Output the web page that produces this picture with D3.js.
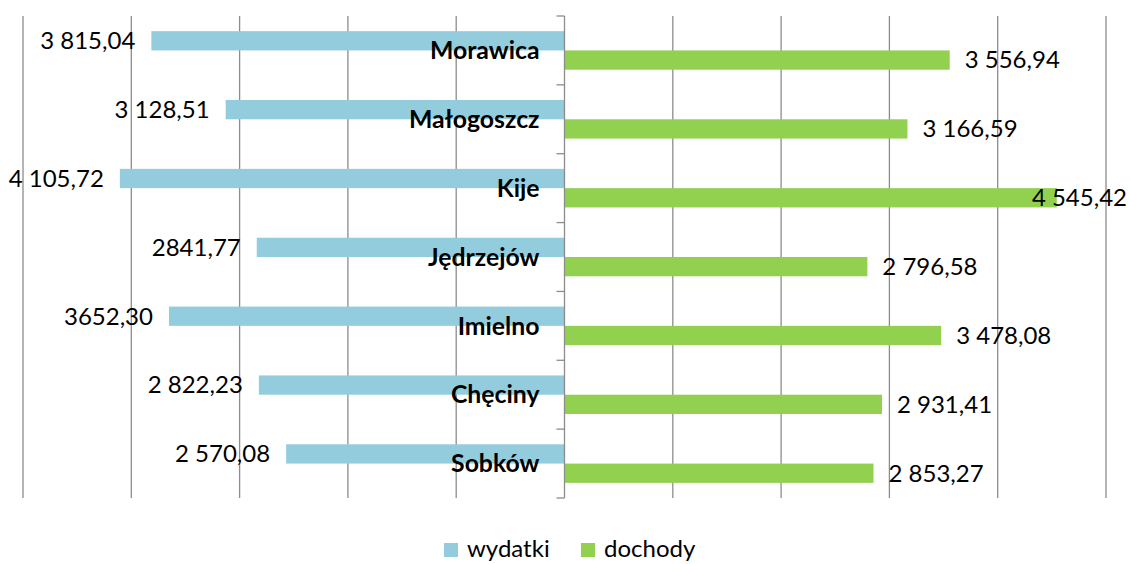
<!DOCTYPE html>
<html><head><meta charset="utf-8">
<script src="https://cdn.jsdelivr.net/npm/d3@7"></script>
<style>body{margin:0;background:#fff}svg{display:block}text{font-family:Lato,"Open Sans",sans-serif}</style>
</head><body><svg id="c" width="1130" height="564"></svg>
<script>
const categories = ["Morawica","Małogoszcz","Kije","Jędrzejów","Imielno","Chęciny","Sobków"];
const wydatki = [3815.04,3128.51,4105.72,2841.77,3652.30,2822.23,2570.08];
const wydatkiLabels = ["3 815,04","3 128,51","4 105,72","2841,77","3652,30","2 822,23","2 570,08"];
const dochody = [3556.94,3166.59,4545.42,2796.58,3478.08,2931.41,2853.27];
const dochodyLabels = ["3 556,94","3 166,59","4 545,42","2 796,58","3 478,08","2 931,41","2 853,27"];
const xTicks = [-5000,-4000,-3000,-2000,-1000,1000,2000,3000,4000,5000];
const seriesNames = ["wydatki","dochody"];
const colors = ["#93CDDD","#92D050"];

const W = 1130, H = 564, FS = 24, FSC = 24.8, FSL = 24;
const svg = d3.select("#c");
const x = d3.scaleLinear().domain([-5000,5000]).range([23,1106]);
const y = d3.scaleBand().domain(categories).range([16,498]);
const bw = y.bandwidth();
const barH = bw*0.28;
const off = (bw - 2*barH)/2;

// gridlines
svg.append("g").selectAll("line").data(xTicks).join("line")
  .attr("x1",d=>x(d)).attr("x2",d=>x(d)).attr("y1",16).attr("y2",498)
  .attr("stroke","#8c8c8c").attr("stroke-width",1.3);

// bars
svg.append("g").selectAll("rect").data(categories).join("rect")
  .attr("x",(d,i)=>x(-wydatki[i])).attr("width",(d,i)=>x(0)-x(-wydatki[i]))
  .attr("y",d=>y(d)+off).attr("height",barH).attr("fill",colors[0]);
svg.append("g").selectAll("rect").data(categories).join("rect")
  .attr("x",x(0)).attr("width",(d,i)=>x(dochody[i])-x(0))
  .attr("y",d=>y(d)+off+barH).attr("height",barH).attr("fill",colors[1]);

// center axis
const ax = svg.append("g");
ax.append("line").attr("x1",x(0)).attr("x2",x(0)).attr("y1",16).attr("y2",498)
  .attr("stroke","#8c8c8c").attr("stroke-width",1.3);
const edges = categories.map(c=>y(c)).concat([498]);
ax.selectAll("line.t").data(edges).join("line").attr("class","t")
  .attr("x1",x(0)-8).attr("x2",x(0)).attr("y1",d=>d).attr("y2",d=>d)
  .attr("stroke","#8c8c8c").attr("stroke-width",1.3);

// category labels
svg.append("g").selectAll("text").data(categories).join("text")
  .attr("x",x(0)-25).attr("y",d=>y(d)+bw/2).attr("dy","0.35em")
  .attr("text-anchor","end").attr("font-weight","bold").attr("font-size",FSC).attr("fill","#000")
  .text(d=>d);

// value labels wydatki
svg.append("g").selectAll("text").data(categories).join("text")
  .attr("y",d=>y(d)+off+barH/2).attr("dy","0.35em").attr("font-size",FS).attr("fill","#000")
  .attr("text-anchor","start")
  .text((d,i)=>wydatkiLabels[i])
  .each(function(d,i){
    const w = this.getComputedTextLength();
    const xr = Math.max(x(-wydatki[i]) - 16, w + 1);
    d3.select(this).attr("x", xr - w);
  });
// value labels dochody
svg.append("g").selectAll("text").data(categories).join("text")
  .attr("y",d=>y(d)+off+barH*1.5).attr("dy","0.35em").attr("font-size",FS).attr("fill","#000")
  .attr("text-anchor","start")
  .text((d,i)=>dochodyLabels[i])
  .each(function(d,i){
    const w = this.getComputedTextLength();
    const xl = Math.min(x(dochody[i]) + 15, W - 3 - w);
    d3.select(this).attr("x", xl);
  });

// legend
const lg = svg.append("g");
const lx = [444, 581];
seriesNames.forEach((s,i)=>{
  lg.append("rect").attr("x",lx[i]).attr("y",543).attr("width",14).attr("height",14).attr("fill",colors[i]);
  lg.append("text").attr("x",lx[i]+23).attr("y",557).attr("font-size",FSL).attr("fill","#000").text(s);
});
</script></body></html>
